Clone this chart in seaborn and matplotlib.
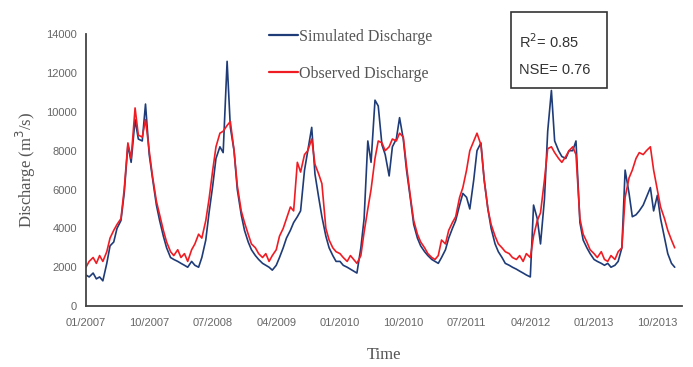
import numpy as np
import pandas as pd
import matplotlib
matplotlib.use("Agg")
import matplotlib.pyplot as plt
import matplotlib.dates as mdates
from matplotlib.patches import Rectangle
from matplotlib.lines import Line2D
import seaborn as sns

# semi-monthly readings (1st and 15th of each month), 2007-2013
observed = [
    # 2007
    2000, 2300, 2500, 2200, 2600, 2300, 2800, 3500, 3900, 4200, 4500, 6000,
    8400, 7600, 10200, 8800, 8700, 9600, 8000, 6700, 5400, 4700, 3900, 3300,
    # 2008
    2800, 2600, 2900, 2500, 2700, 2300, 2900, 3200, 3700, 3500, 4400, 5500,
    7000, 8200, 8900, 9000, 9300, 9500, 8000, 6200, 4900, 4300, 3700, 3200,
    # 2009
    3000, 2700, 2500, 2700, 2300, 2600, 2900, 3600, 4000, 4500, 5100, 4900,
    7400, 6900, 7800, 8000, 8600, 7300, 6800, 6300, 4000, 3400, 3000, 2800,
    # 2010
    2700, 2500, 2300, 2600, 2400, 2200, 2600, 3800, 5000, 6000, 7600, 8500,
    8400, 8000, 8200, 8600, 8500, 8900, 8700, 7200, 5600, 4400, 3700, 3300,
    # 2011
    3000, 2700, 2500, 2400, 2600, 3400, 3200, 3900, 4300, 4600, 5600, 6100,
    7000, 8000, 8500, 8900, 8300, 6500, 5000, 4200, 3600, 3200, 3000, 2800,
    # 2012
    2700, 2500, 2400, 2600, 2300, 2700, 2500, 3600, 4400, 4800, 6500, 8100,
    8200, 7900, 7600, 7400, 7700, 8000, 8200, 7800, 4500, 3700, 3300, 2900,
    # 2013
    2700, 2500, 2800, 2400, 2300, 2600, 2400, 2800, 3000, 5600, 6600, 7000,
    7600, 7900, 7800, 8000, 8200, 7000, 6000, 5100, 4500, 3900, 3400, 3000,
]
simulated = [
    # 2007
    1600, 1500, 1700, 1400, 1500, 1300, 2200, 3100, 3300, 4000, 4400, 5800,
    8300, 7400, 9600, 8600, 8500, 10400, 7800, 6600, 5200, 4400, 3600, 3000,
    # 2008
    2500, 2400, 2300, 2200, 2100, 2000, 2300, 2100, 2000, 2500, 3400, 4800,
    6200, 7600, 8200, 7900, 12600, 9200, 8000, 6000, 4700, 3900, 3300, 2900,
    # 2009
    2600, 2400, 2200, 2100, 2000, 1850, 2100, 2500, 3000, 3500, 3900, 4300,
    4600, 4900, 7000, 8000, 9200, 6800, 5600, 4600, 3600, 3000, 2600, 2300,
    # 2010
    2300, 2100, 2000, 1900, 1800, 1700, 3000, 4500, 8500, 7400, 10600, 10300,
    8300, 7800, 6700, 8200, 8600, 9700, 8600, 7000, 5500, 4200, 3500, 3100,
    # 2011
    2800, 2600, 2400, 2300, 2200, 2500, 2900, 3500, 4000, 4400, 5200, 5800,
    5600, 5000, 6500, 8000, 8400, 6500, 5000, 4000, 3200, 2800, 2500, 2200,
    # 2012
    2100, 2000, 1900, 1800, 1700, 1600, 1500, 5200, 4500, 3200, 5500, 9000,
    11100, 8500, 8000, 7700, 7600, 8000, 8000, 8500, 4300, 3400, 3000, 2700,
    # 2013
    2400, 2300, 2200, 2100, 2200, 2000, 2100, 2300, 3000, 7000, 5800, 4600,
    4700, 4900, 5200, 5600, 6100, 4900, 5700, 4500, 3500, 2700, 2200, 2000,
]
dates = pd.date_range("2007-01-01", "2013-12-31", freq="SMS")
tick_dates = pd.date_range("2007-01-01", periods=10, freq="9MS")
series_names = ["Simulated Discharge", "Observed Discharge"]
series_colors = ["#1f3c78", "#f01c24"]

df = pd.DataFrame({
    "Time": np.concatenate([dates, dates]),
    "Discharge": simulated + observed,
    "Series": [series_names[0]] * len(dates) + [series_names[1]] * len(dates),
})

sns.set_style("white")
plt.rcParams["font.family"] = ["Liberation Sans Narrow", "Liberation Sans", "DejaVu Sans"]

fig = plt.figure(figsize=(6.93, 3.67), dpi=100)
ax = fig.add_axes([0.124, 0.166, 0.86, 0.741])

sns.lineplot(data=df, x="Time", y="Discharge", hue="Series",
             palette=dict(zip(series_names, series_colors)),
             linewidth=1.2, ax=ax, legend=False)

ax.set_ylim(0, 14000)
ax.set_yticks(range(0, 14001, 2000))
ax.set_xlim(pd.Timestamp("2007-01-01"), pd.Timestamp("2014-01-15"))
ax.set_xticks(tick_dates)
ax.xaxis.set_major_formatter(mdates.DateFormatter("%m/%Y"))
ax.tick_params(axis="both", labelsize=8, labelcolor="#666666", color="#444444")
ax.tick_params(axis="y", direction="out", length=3, width=1)
ax.tick_params(axis="x", direction="inout", length=5, width=1, pad=6)

for s in ["top", "right"]:
    ax.spines[s].set_visible(False)
for s in ["left", "bottom"]:
    ax.spines[s].set_color("#444444")
    ax.spines[s].set_linewidth(1.3)

serif = ["Liberation Serif", "DejaVu Serif"]
ax.set_xlabel("Time", family=serif, fontsize=12, color="#555555", labelpad=14)
ax.set_ylabel("Discharge (m$^3$/s)", family=serif, fontsize=12, color="#555555", labelpad=6)

handles = [Line2D([], [], color=c, lw=1.6) for c in series_colors]
leg = ax.legend(handles, series_names, loc="upper left",
                bbox_to_anchor=(0.368, 0.96), bbox_transform=fig.transFigure,
                frameon=False, handlelength=1.8, handletextpad=0.05,
                labelspacing=1.3, prop={"family": serif, "size": 11.5})
for t in leg.get_texts():
    t.set_color("#555555")

fig.patches.append(Rectangle((511 / 693, 1 - 88 / 367), 96 / 693, 76 / 367,
                             transform=fig.transFigure, fill=False,
                             edgecolor="#333333", linewidth=1.2))
fig.text(519 / 693, 1 - 42 / 367, "R$^2$= 0.85", fontsize=10.5, color="#333333",
         va="center", ha="left")
fig.text(519 / 693, 1 - 70 / 367, "NSE= 0.76", fontsize=10.5, color="#333333",
         va="center", ha="left")

fig.savefig("out.png", dpi=100)
